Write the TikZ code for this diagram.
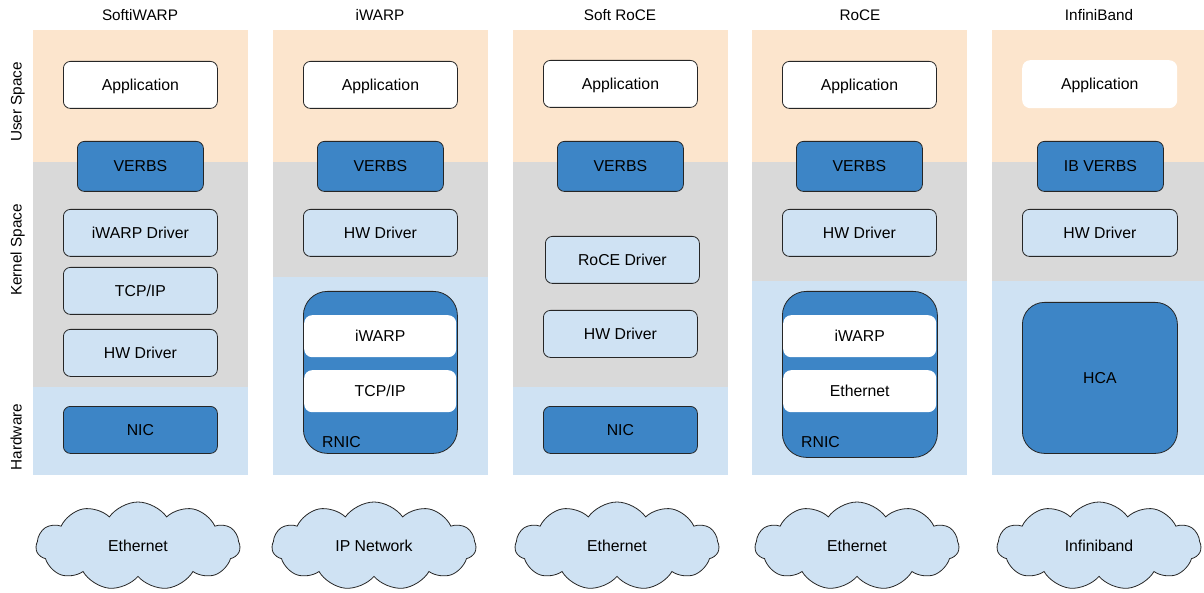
\documentclass[tikz,border=0pt]{standalone}
\usepackage{fontspec}
\setmainfont{Liberation Sans}
\usetikzlibrary{shapes.symbols}
\definecolor{peach}{HTML}{FCE5CD}
\definecolor{kgray}{HTML}{D9D9D9}
\definecolor{hwblue}{HTML}{CFE2F3}
\definecolor{dblue}{HTML}{3D85C6}
\begin{document}
\begin{tikzpicture}[x=1pt,y=-1pt,font=\fontsize{15.8}{18}\selectfont,
  every node/.style={text height=11.2pt,text depth=0pt},
  base/.style={draw=black!85,line width=0.8pt,rounded corners=7pt,inner sep=0pt,anchor=north west,minimum width=154pt,minimum height=47pt},
  appbox/.style={base,fill=white},
  drvbox/.style={base,fill=hwblue},
  verbsbox/.style={base,fill=dblue,minimum width=126pt,minimum height=50pt},
  nicbox/.style={base,fill=dblue},
  chipbox/.style={base,fill=dblue,rounded corners=24pt},
  inner/.style={fill=white,rounded corners=8pt,inner sep=0pt,anchor=north west,minimum width=152pt,minimum height=42pt},
  net/.style={cloud,cloud puffs=11,cloud puff arc=110,aspect=2.3,draw=black!85,line width=0.8pt,fill=hwblue,minimum width=204pt,minimum height=88pt,inner sep=0pt},
  title/.style={anchor=center,font=\fontsize{15.3}{18}\selectfont},
  side/.style={rotate=90,anchor=center,font=\fontsize{15.3}{18}\selectfont}]
\useasboundingbox (0,0) rectangle (1204,593);
\fill[white] (0,0) rectangle (1204,593);
% column backgrounds
\fill[peach] (33,30) rectangle (248,162);
\fill[kgray] (33,162) rectangle (248,387);
\fill[hwblue] (33,387) rectangle (248,475);
\fill[peach] (273,30) rectangle (488,162);
\fill[kgray] (273,162) rectangle (488,277);
\fill[hwblue] (273,277) rectangle (488,475);
\fill[peach] (513,30) rectangle (728,162);
\fill[kgray] (513,162) rectangle (728,387);
\fill[hwblue] (513,387) rectangle (728,475);
\fill[peach] (752,30) rectangle (967,162);
\fill[kgray] (752,162) rectangle (967,281);
\fill[hwblue] (752,281) rectangle (967,475);
\fill[peach] (992,30) rectangle (1204,162);
\fill[kgray] (992,162) rectangle (1204,281);
\fill[hwblue] (992,281) rectangle (1204,475);
% titles
\node[title] (t1) at (140,15) {SoftiWARP};
\node[title] (t2) at (380,15) {iWARP};
\node[title] (t3) at (620,15) {Soft RoCE};
\node[title] (t4) at (860,15) {RoCE};
\node[title] (t5) at (1099,15) {InfiniBand};
% side labels
\node[side] (s1) at (16,102) {User Space};
\node[side] (s2) at (16,250) {Kernel Space};
\node[side] (s3) at (16,437) {Hardware};
% column 1
\node[appbox] (a1) at (63,61) {Application};
\node[verbsbox] (v1) at (77,141) {VERBS};
\node[drvbox] (d1) at (63,209) {iWARP Driver};
\node[drvbox] (tc1) at (63,267) {TCP/IP};
\node[drvbox] (h1) at (63,329) {HW Driver};
\node[nicbox] (n1) at (63,406) {NIC};
% column 2
\node[appbox] (a2) at (303,61) {Application};
\node[verbsbox] (v2) at (317,141) {VERBS};
\node[drvbox] (h2) at (303,209) {HW Driver};
\node[chipbox,minimum height=162pt] (r2) at (303,291) {};
\node[inner] (i2) at (304,315) {iWARP};
\node[inner] (tc2) at (304,370) {TCP/IP};
\node[anchor=west,inner sep=0pt] (rl2) at (322,442) {RNIC};
% column 3
\node[appbox] (a3) at (543,60) {Application};
\node[verbsbox] (v3) at (557,141) {VERBS};
\node[drvbox] (d3) at (545,236) {RoCE Driver};
\node[drvbox] (h3) at (543,310) {HW Driver};
\node[nicbox] (n3) at (543,406) {NIC};
% column 4
\node[appbox] (a4) at (782,61) {Application};
\node[verbsbox] (v4) at (796,141) {VERBS};
\node[drvbox] (h4) at (782,209) {HW Driver};
\node[chipbox,minimum width=155pt,minimum height=166pt] (r4) at (782,291) {};
\node[inner,minimum width=153pt] (i4) at (783,315) {iWARP};
\node[inner,minimum width=153pt] (e4) at (783,370) {Ethernet};
\node[anchor=west,inner sep=0pt] (rl4) at (801,442) {RNIC};
% column 5
\node[inner,minimum width=155pt,minimum height=48pt] (a5) at (1022,60) {Application};
\node[verbsbox] (v5) at (1037,141) {IB VERBS};
\node[drvbox,minimum width=155pt] (h5) at (1022,209) {HW Driver};
\node[chipbox,rounded corners=22pt,minimum width=155pt,minimum height=151pt] (hca) at (1022,302) {HCA};
% networks
\node[net] (c1) at (138,546) {Ethernet};
\node[net] (c2) at (374,546) {IP Network};
\node[net] (c3) at (617,546) {Ethernet};
\node[net] (c4) at (857,546) {Ethernet};
\node[net] (c5) at (1099,546) {Infiniband};
\end{tikzpicture}
\end{document}
